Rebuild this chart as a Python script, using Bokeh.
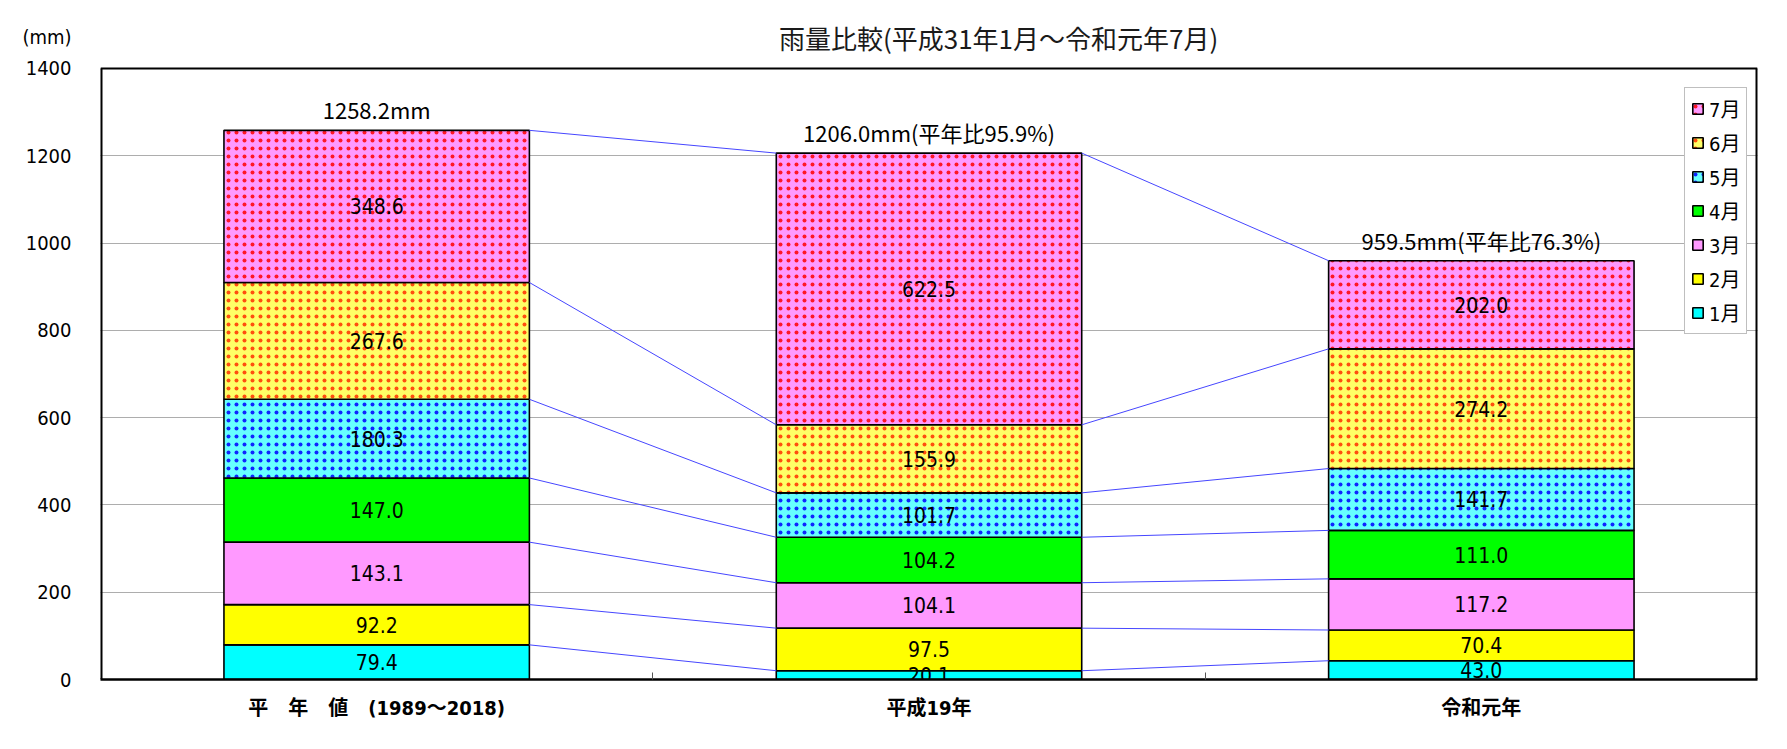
from bokeh.plotting import figure
from bokeh.models import ColumnDataSource, FixedTicker, Legend, LegendItem, Label
from bokeh.core.properties import value
from bokeh.embed import file_html
from bokeh.resources import INLINE

# ---------------- data ----------------
categories = ["平　年　値　(1989～2018)", "平成19年", "令和元年"]
months = ["1月", "2月", "3月", "4月", "5月", "6月", "7月"]
jan = [79.4, 20.1, 43.0]
feb = [92.2, 97.5, 70.4]
mar = [143.1, 104.1, 117.2]
apr = [147.0, 104.2, 111.0]
may = [180.3, 101.7, 141.7]
jun = [267.6, 155.9, 274.2]
jul = [348.6, 622.5, 202.0]
total_labels = ["1258.2mm", "1206.0mm(平年比95.9%)", "959.5mm(平年比76.3%)"]
y_ticks = [0, 200, 400, 600, 800, 1000, 1200, 1400]
y_max = 1400
title_text = "雨量比較(平成31年1月～令和元年7月)"
unit_text = "(mm)"

# ---------------- styles ----------------
fills = ["#00FFFF", "#FFFF00", "#FF99FF", "#00FF00", "#66FFFF", "#FFFF66", "#FF99FF"]
hatches = ["blank", "blank", "blank", "blank", "dot", "dot", "dot"]
hatch_colors = ["black", "black", "black", "black", "#0000FF", "#FF3000", "#FF0000"]
NUM_FONT = "DejaVu Sans Condensed, Noto Sans CJK JP"
CJK_FONT = "Noto Sans CJK JP"
BAR_W = 0.553

# vertical room above the plot box (same scale as the box) for title / unit
Y_TOP = 1519
UNIT_Y = 1473
TITLE_Y = 1471
TITLE_X = 1.626

series = [jan, feb, mar, apr, may, jun, jul]
xs = [i + 0.5 for i in range(len(categories))]
n_cat = len(categories)

p = figure(width=1780, height=745, x_range=(0, n_cat), y_range=(0, Y_TOP),
           output_backend="svg", toolbar_location=None,
           min_border_left=100, min_border_right=23, min_border_top=16, min_border_bottom=66)
p.background_fill_color = "white"
p.border_fill_color = "white"
p.outline_line_color = None

# plot box (top, left, right) derived from the ranges
p.segment(x0=[0, 0, n_cat], y0=[y_max, 0, 0], x1=[n_cat, 0, n_cat], y1=[y_max, y_max, y_max],
          line_color="black", line_width=[2, 4, 4])

# stacked bars
bottoms = [0.0] * len(xs)
renderers = []
lab_x, lab_y, lab_t = [], [], []
cum_levels = []
for k, vals in enumerate(series):
    tops = [b + v for b, v in zip(bottoms, vals)]
    src = ColumnDataSource(dict(x=xs, bottom=bottoms, top=tops))
    r = p.vbar(x="x", bottom="bottom", top="top", width=BAR_W, source=src,
               fill_color=fills[k], line_color="black", line_width=1.6,
               hatch_pattern=hatches[k], hatch_color=hatch_colors[k],
               hatch_scale=8, hatch_weight=1.0, hatch_alpha=0.85)
    renderers.append(r)
    for i in range(len(xs)):
        lab_x.append(xs[i])
        lab_y.append(bottoms[i] + vals[i] / 2)
        lab_t.append(f"{vals[i]:.1f}")
    cum_levels.append(tops)
    bottoms = tops

# connector lines between bars
sx0, sx1, sy0, sy1 = [], [], [], []
for lev in cum_levels:
    for i in range(len(xs) - 1):
        sx0.append(xs[i] + BAR_W / 2)
        sx1.append(xs[i + 1] - BAR_W / 2)
        sy0.append(lev[i])
        sy1.append(lev[i + 1])
p.segment(x0=sx0, y0=sy0, x1=sx1, y1=sy1, line_color="#4646FF", line_width=1)

# value labels
p.text(x=lab_x, y=lab_y, text=lab_t, text_align="center", text_baseline="middle",
       text_font=value(NUM_FONT), text_font_size="21px", text_color="black")

# total labels
p.text(x=xs, y=bottoms, text=total_labels, text_align="center", text_baseline="middle",
       y_offset=-21, text_font=value(CJK_FONT), text_font_size="22px", text_color="black")

# grid
p.xgrid.visible = False
p.ygrid.ticker = FixedTicker(ticks=[t for t in y_ticks if 0 < t < y_max])
p.ygrid.grid_line_color = "#5a5a5a"
p.ygrid.grid_line_dash = "1 1"
p.ygrid.grid_line_width = 1

# y axis (tick labels + unit label above the box)
ya = p.yaxis[0]
ya.ticker = FixedTicker(ticks=y_ticks + [UNIT_Y])
ya.major_label_overrides = {UNIT_Y: unit_text}
ya.major_tick_line_color = None
ya.minor_tick_line_color = None
ya.axis_line_color = None
ya.major_label_standoff = 23
ya.major_label_text_font = NUM_FONT
ya.major_label_text_font_size = "20px"
ya.major_label_text_color = "black"

# x axis
xa = p.xaxis[0]
xa.ticker = FixedTicker(ticks=xs, minor_ticks=[1, 2])
xa.major_label_overrides = {x: c for x, c in zip(xs, categories)}
xa.major_tick_line_color = None
xa.minor_tick_in = 7
xa.minor_tick_out = 0
xa.minor_tick_line_color = "#555555"
xa.axis_line_color = "black"
xa.axis_line_width = 2.5
xa.major_label_standoff = 10
xa.major_label_text_font = NUM_FONT
xa.major_label_text_font_style = "bold"
xa.major_label_text_font_size = "20px"
xa.major_label_text_color = "black"

# title
p.add_layout(Label(x=TITLE_X, y=TITLE_Y, text=title_text, text_align="center", text_baseline="middle",
                   text_font=CJK_FONT, text_font_size="26px", text_color="#1a1a1a"))

# legend
items = [LegendItem(label=months[k], renderers=[renderers[k]]) for k in reversed(range(len(months)))]
legend = Legend(items=items, location=(1584, 345), orientation="vertical",
                border_line_color="#808080", border_line_width=1,
                background_fill_color="white", background_fill_alpha=1,
                padding=6, spacing=5, margin=0,
                glyph_width=13, glyph_height=13, label_standoff=5,
                label_height=20, label_text_font=NUM_FONT, label_text_font_size="20px",
                label_text_color="black")
p.add_layout(legend)

open("out.html", "w").write(file_html(p, INLINE))
